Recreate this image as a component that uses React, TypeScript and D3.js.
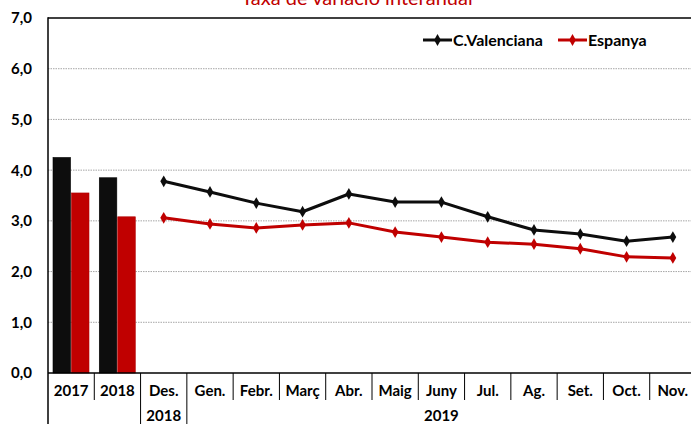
import React from "react";
import * as d3 from "d3";

const categories = ["2017", "2018", "Des.", "Gen.", "Febr.", "Març", "Abr.", "Maig", "Juny", "Jul.", "Ag.", "Set.", "Oct.", "Nov."];
const annualYears = ["2017", "2018"];
const annualValenciana = [4.25, 3.85];
const annualEspanya = [3.55, 3.08];
const monthCats = ["Des.", "Gen.", "Febr.", "Març", "Abr.", "Maig", "Juny", "Jul.", "Ag.", "Set.", "Oct.", "Nov."];
const monthValenciana = [3.78, 3.57, 3.35, 3.18, 3.53, 3.37, 3.37, 3.08, 2.82, 2.74, 2.6, 2.68];
const monthEspanya = [3.06, 2.94, 2.86, 2.92, 2.96, 2.78, 2.68, 2.58, 2.54, 2.45, 2.29, 2.27];
const yTicks = [0, 1, 2, 3, 4, 5, 6, 7];
const seriesNames = ["C.Valenciana", "Espanya"];
const seriesColors = ["#0d0d0d", "#c00000"];

const W = 691;
const H = 424;
const FONT = "Lato, Carlito, Calibri, sans-serif";

export default function App() {
  const x = d3.scaleBand().domain(categories).range([48, 696]);
  const y = d3.scaleLinear().domain([0, 7]).range([373, 18]);
  const inner = d3.scaleBand().domain(seriesNames).range([5, 41]).paddingInner(0.05);
  const line = d3
    .line<number>()
    .x((_, i) => (x(monthCats[i]) as number) + x.bandwidth() / 2)
    .y((d) => y(d));
  const diamond = d3.symbol().type(d3.symbolDiamond).size(40)() as string;
  const fmt = (v: number) => v.toFixed(1).replace(".", ",");

  const bars = [annualValenciana, annualEspanya];
  const lines = [monthValenciana, monthEspanya];
  const fullSeps = [48, x("Des.") as number, x("Gen.") as number];
  const legendX = [423, 558];

  return (
    <svg width={W} height={H} style={{ position: "absolute", left: 0, top: 0 }} fontFamily={FONT}>
      <rect width={W} height={H} fill="#fff" />
      <text x={357} y={5} textAnchor="middle" fontSize={20} fill="#c00000">
        Taxa de variació interanual
      </text>

      {yTicks.filter((t) => t > 0 && t < 7).map((t) => (
        <line key={t} x1={48} x2={W} y1={y(t)} y2={y(t)} stroke="#a6a6a6" strokeWidth={1} strokeDasharray="1.5,1" />
      ))}
      <line x1={48} x2={W} y1={y(7)} y2={y(7)} stroke="#000" strokeWidth={1.5} />

      {yTicks.map((t) => (
        <text key={t} x={32} y={y(t)} dy="0.36em" textAnchor="end" fontSize={15} fontWeight="bold">
          {fmt(t)}
        </text>
      ))}

      {annualYears.map((yr, i) =>
        bars.map((vals, s) => (
          <rect
            key={yr + s}
            x={(x(yr) as number) + (inner(seriesNames[s]) as number)}
            y={y(vals[i])}
            width={inner.bandwidth()}
            height={y(0) - y(vals[i])}
            fill={seriesColors[s]}
            stroke={s === 0 ? "#000" : "#b00000"}
            strokeWidth={0.6}
          />
        ))
      )}

      {lines.map((vals, s) => (
        <g key={s}>
          <path d={line(vals) as string} fill="none" stroke={seriesColors[s]} strokeWidth={3} strokeLinejoin="round" />
          {vals.map((v, i) => (
            <path
              key={i}
              d={diamond}
              transform={`translate(${(x(monthCats[i]) as number) + x.bandwidth() / 2},${y(v)})`}
              fill={seriesColors[s]}
            />
          ))}
        </g>
      ))}

      <line x1={48} x2={48} y1={y(7) - 0.75} y2={H} stroke="#000" strokeWidth={1.5} />
      <line x1={48} x2={W} y1={y(0)} y2={y(0)} stroke="#000" strokeWidth={1.5} />

      {categories.map((c) => {
        const x0 = x(c) as number;
        return (
          <g key={c}>
            {x0 > 48 && !fullSeps.includes(x0) && (
              <line x1={x0} x2={x0} y1={y(0)} y2={400} stroke="#000" strokeWidth={1} />
            )}
            <text x={x0 + x.bandwidth() / 2} y={396} textAnchor="middle" fontSize={15} fontWeight="bold">
              {c}
            </text>
          </g>
        );
      })}
      {fullSeps.slice(1).map((sx) => (
        <line key={sx} x1={sx} x2={sx} y1={y(0)} y2={H} stroke="#000" strokeWidth={1} />
      ))}
      <text x={(x("Des.") as number) + x.bandwidth() / 2} y={421} textAnchor="middle" fontSize={15} fontWeight="bold">
        2018
      </text>
      <text x={((x("Gen.") as number) + 696) / 2} y={421} textAnchor="middle" fontSize={15} fontWeight="bold">
        2019
      </text>

      {seriesNames.map((n, s) => {
        const lx = legendX[s];
        return (
          <g key={n}>
            <line x1={lx} x2={lx + 29} y1={40} y2={40} stroke={seriesColors[s]} strokeWidth={3} />
            <path d={diamond} transform={`translate(${lx + 14.5},40)`} fill={seriesColors[s]} />
            <text x={lx + 30} y={40} dy="0.36em" fontSize={16} fontWeight="bold">
              {n}
            </text>
          </g>
        );
      })}
    </svg>
  );
}
